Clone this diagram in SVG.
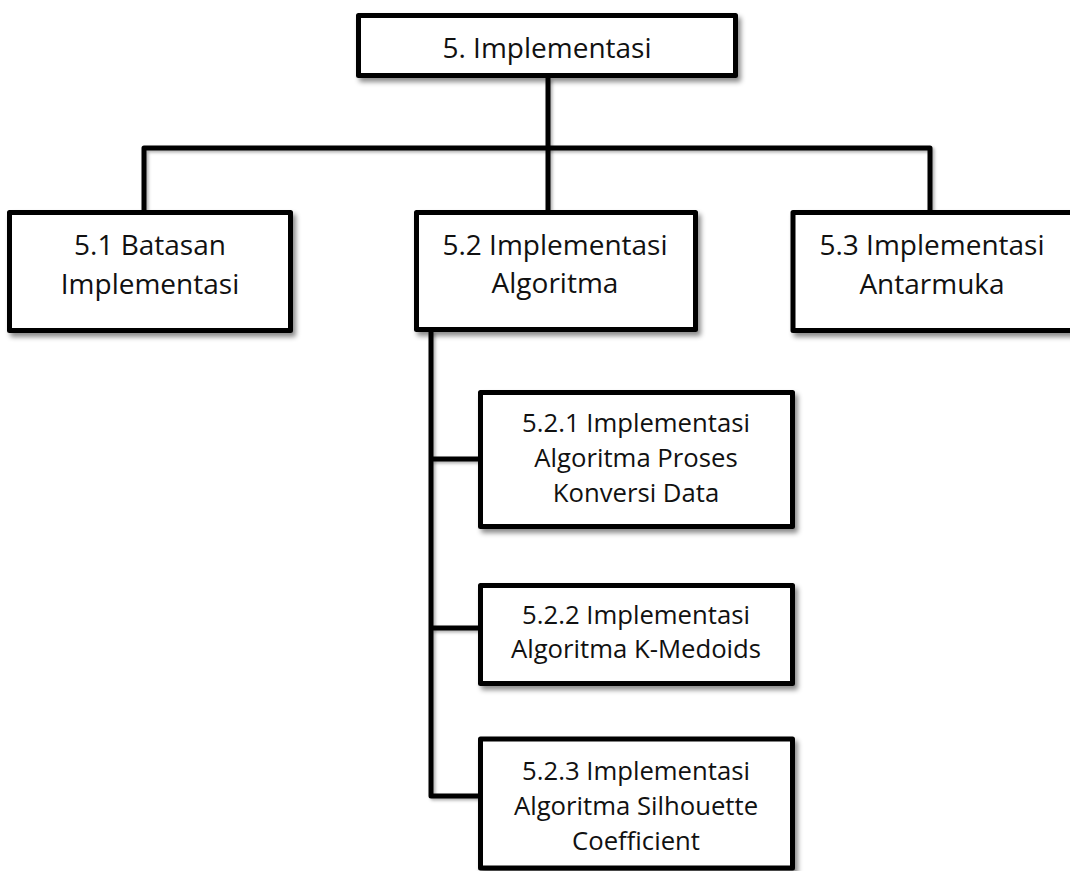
<svg xmlns="http://www.w3.org/2000/svg" width="1070" height="871" viewBox="0 0 1070 871">
  <defs>
    <filter id="shadow" x="-10%" y="-10%" width="130%" height="140%">
      <feDropShadow dx="3" dy="4" stdDeviation="2.5" flood-color="#000" flood-opacity="0.45"/>
    </filter>
    <filter id="lshadow" filterUnits="userSpaceOnUse" x="0" y="0" width="1070" height="871">
      <feDropShadow dx="2" dy="2" stdDeviation="1.5" flood-color="#000" flood-opacity="0.3"/>
    </filter>
  </defs>
  <style>
    .box { fill: #ffffff; stroke: #000000; stroke-width: 5; stroke-linejoin: round; filter: url(#shadow); }
    .conn { fill: none; stroke: #000000; stroke-width: 5; stroke-linejoin: round; filter: url(#lshadow); }
    .t1 { font-family: "Open Sans", "Liberation Sans", sans-serif; font-size: 28px; fill: #111111; text-anchor: middle; }
    .t2 { font-family: "Open Sans", "Liberation Sans", sans-serif; font-size: 25.7px; fill: #111111; text-anchor: middle; }
  </style>

  <g id="connectors">
    <path class="conn" d="M548 78 V210"/>
    <path class="conn" d="M144 210 V148 H930 V210"/>
    <path class="conn" d="M431 331 V796 H478"/>
    <path class="conn" d="M431 459 H478"/>
    <path class="conn" d="M431 628 H478"/>
  </g>

  <g id="n5">
    <rect class="box" x="358.5" y="15.5" width="377" height="60"/>
    <text class="t1" x="547" y="58">5. Implementasi</text>
  </g>

  <g id="n5_1">
    <rect class="box" x="9.5" y="212.5" width="281" height="118"/>
    <text class="t1" x="150" y="255">5.1 Batasan</text>
    <text class="t1" x="150" y="294">Implementasi</text>
  </g>

  <g id="n5_2">
    <rect class="box" x="416.5" y="212.5" width="279" height="117"/>
    <text class="t1" x="555" y="255">5.2 Implementasi</text>
    <text class="t1" x="555" y="293">Algoritma</text>
  </g>

  <g id="n5_3">
    <rect class="box" x="793" y="212.5" width="290" height="118"/>
    <text class="t1" x="932" y="255">5.3 Implementasi</text>
    <text class="t1" x="932" y="294">Antarmuka</text>
  </g>

  <g id="n5_2_1">
    <rect class="box" x="480.5" y="392.5" width="312" height="134"/>
    <text class="t2" x="636" y="432">5.2.1 Implementasi</text>
    <text class="t2" x="636" y="467">Algoritma Proses</text>
    <text class="t2" x="636" y="502">Konversi Data</text>
  </g>

  <g id="n5_2_2">
    <rect class="box" x="480.5" y="585.5" width="312" height="98"/>
    <text class="t2" x="636" y="624">5.2.2 Implementasi</text>
    <text class="t2" x="636" y="658">Algoritma K-Medoids</text>
  </g>

  <g id="n5_2_3">
    <rect class="box" x="480.5" y="739" width="312" height="129"/>
    <text class="t2" x="636" y="780">5.2.3 Implementasi</text>
    <text class="t2" x="636" y="815">Algoritma Silhouette</text>
    <text class="t2" x="636" y="850">Coefficient</text>
  </g>
</svg>
